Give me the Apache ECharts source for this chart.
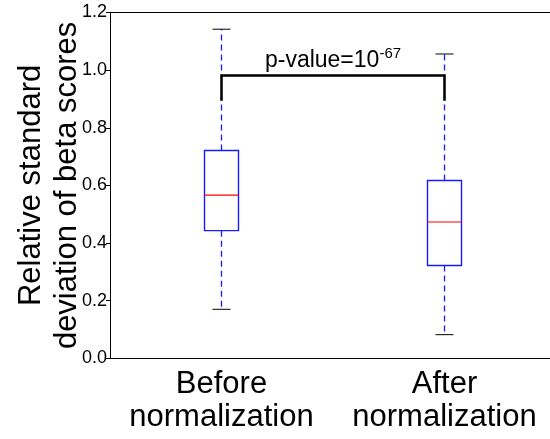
<!DOCTYPE html>
<html>
<head>
<meta charset="utf-8">
<script src="https://cdn.jsdelivr.net/npm/echarts@6/dist/echarts.min.js"></script>
<style>
html,body{margin:0;padding:0;background:#fff;}
#chart{width:550px;height:439px;}
</style>
</head>
<body>
<div id="chart"></div>
<script>
// ---- data ----
var categories = ['Before\nnormalization', 'After\nnormalization'];
var lowWhisker = [0.170, 0.082];
var q1 = [0.443, 0.322];
var median = [0.566, 0.473];
var q3 = [0.721, 0.617];
var highWhisker = [1.142, 1.056];
var yMin = 0, yMax = 1.2, yInterval = 0.2;
var yTitle = 'Relative standard\ndeviation of beta scores';
var bracketTop = 0.981;
var bracketLeg = 0.894;
var pText = 'p-value=10';
var pExp = '-67';

// ---- build ----
var FONT = '"Liberation Sans", Arial, sans-serif';
var boxData = categories.map(function (c, i) {
  return [i, lowWhisker[i], q1[i], median[i], q3[i], highWhisker[i]];
});

function renderBox(params, api) {
  var x = api.value(0);
  var pLow = api.coord([x, api.value(1)]);
  var pQ1 = api.coord([x, api.value(2)]);
  var pMed = api.coord([x, api.value(3)]);
  var pQ3 = api.coord([x, api.value(4)]);
  var pHigh = api.coord([x, api.value(5)]);
  var cx = Math.floor(pLow[0]) + 0.5;
  var hw = 17, cw = 9;
  var dash = {stroke: '#1a1aff', lineWidth: 1.3, lineDash: [6, 4]};
  return {
    type: 'group',
    children: [
      {type: 'line', shape: {x1: cx, y1: pQ3[1], x2: cx, y2: pHigh[1]}, style: dash},
      {type: 'line', shape: {x1: cx, y1: pQ1[1], x2: cx, y2: pLow[1]}, style: dash},
      {type: 'line', shape: {x1: cx - cw, y1: pHigh[1], x2: cx + cw, y2: pHigh[1]}, style: {stroke: '#000', lineWidth: 1}},
      {type: 'line', shape: {x1: cx - cw, y1: pLow[1], x2: cx + cw, y2: pLow[1]}, style: {stroke: '#000', lineWidth: 1}},
      {type: 'rect', shape: {x: cx - hw, y: pQ3[1], width: 2 * hw, height: pQ1[1] - pQ3[1]}, style: {fill: 'none', stroke: '#1a1aff', lineWidth: 1.4}},
      {type: 'line', shape: {x1: cx - hw, y1: pMed[1], x2: cx + hw, y2: pMed[1]}, style: {stroke: '#ff0000', lineWidth: 1.2}}
    ]
  };
}

function renderBracket(params, api) {
  var a = api.coord([api.value(0), api.value(2)]);
  var b = api.coord([api.value(1), api.value(2)]);
  var aLeg = api.coord([api.value(0), api.value(3)]);
  var mid = (a[0] + b[0]) / 2;
  return {
    type: 'group',
    children: [
      {type: 'polyline', shape: {points: [[a[0], aLeg[1]], [a[0], a[1]], [b[0], b[1]], [b[0], aLeg[1]]]},
        style: {fill: 'none', stroke: '#000', lineWidth: 2.5}},
      {type: 'text', x: mid, y: a[1] - 3,
        style: {
          text: '{m|' + pText + '}{s|' + pExp + '}',
          align: 'center', verticalAlign: 'bottom',
          rich: {
            m: {fontSize: 23, fontFamily: FONT, fill: '#000', verticalAlign: 'bottom', lineHeight: 26},
            s: {fontSize: 15, fontFamily: FONT, fill: '#000', verticalAlign: 'top', lineHeight: 26, padding: [0, 0, 12, 0]}
          }
        }}
    ]
  };
}

var chart = echarts.init(document.getElementById('chart'), null, {renderer: 'canvas'});
chart.setOption({
  animation: false,
  backgroundColor: '#fff',
  grid: {left: 110, right: -6, top: 12.5, bottom: 80.7, outerBoundsMode: 'none', containLabel: false,
    show: false},
  xAxis: [{
    type: 'category',
    data: categories,
    boundaryGap: true,
    axisLine: {lineStyle: {color: '#000', width: 1}},
    axisTick: {inside: true, length: 3, alignWithLabel: true, lineStyle: {color: '#000'}},
    axisLabel: {fontSize: 31, fontFamily: FONT, color: '#000', lineHeight: 33, margin: 10, interval: 0},
    splitLine: {show: false}
  }, {
    type: 'category',
    data: categories,
    position: 'top',
    boundaryGap: true,
    axisLine: {lineStyle: {color: '#000', width: 1}},
    axisTick: {inside: true, length: 3, alignWithLabel: true, lineStyle: {color: '#000'}},
    axisLabel: {show: false},
    splitLine: {show: false}
  }],
  yAxis: {
    type: 'value',
    min: yMin, max: yMax, interval: yInterval,
    name: yTitle,
    nameLocation: 'middle',
    nameGap: 25,
    nameMoveOverlap: false,
    nameTextStyle: {fontSize: 31, fontFamily: FONT, color: '#000', lineHeight: 36},
    axisLine: {show: true, lineStyle: {color: '#000', width: 1}},
    axisTick: {show: true, inside: false, length: 4, lineStyle: {color: '#000'}},
    axisLabel: {fontSize: 18, fontFamily: FONT, color: '#000', margin: 3,
      formatter: function (v) { return v.toFixed(1); }},
    splitLine: {show: false}
  },
  series: [{
    type: 'custom',
    renderItem: renderBox,
    data: boxData,
    encode: {x: 0, y: [1, 2, 3, 4, 5]},
    silent: true
  }, {
    type: 'custom',
    renderItem: renderBracket,
    data: [[0, 1, bracketTop, bracketLeg]],
    encode: {x: [0, 1], y: [2, 3]},
    silent: true
  }]
});
</script>
</body>
</html>
